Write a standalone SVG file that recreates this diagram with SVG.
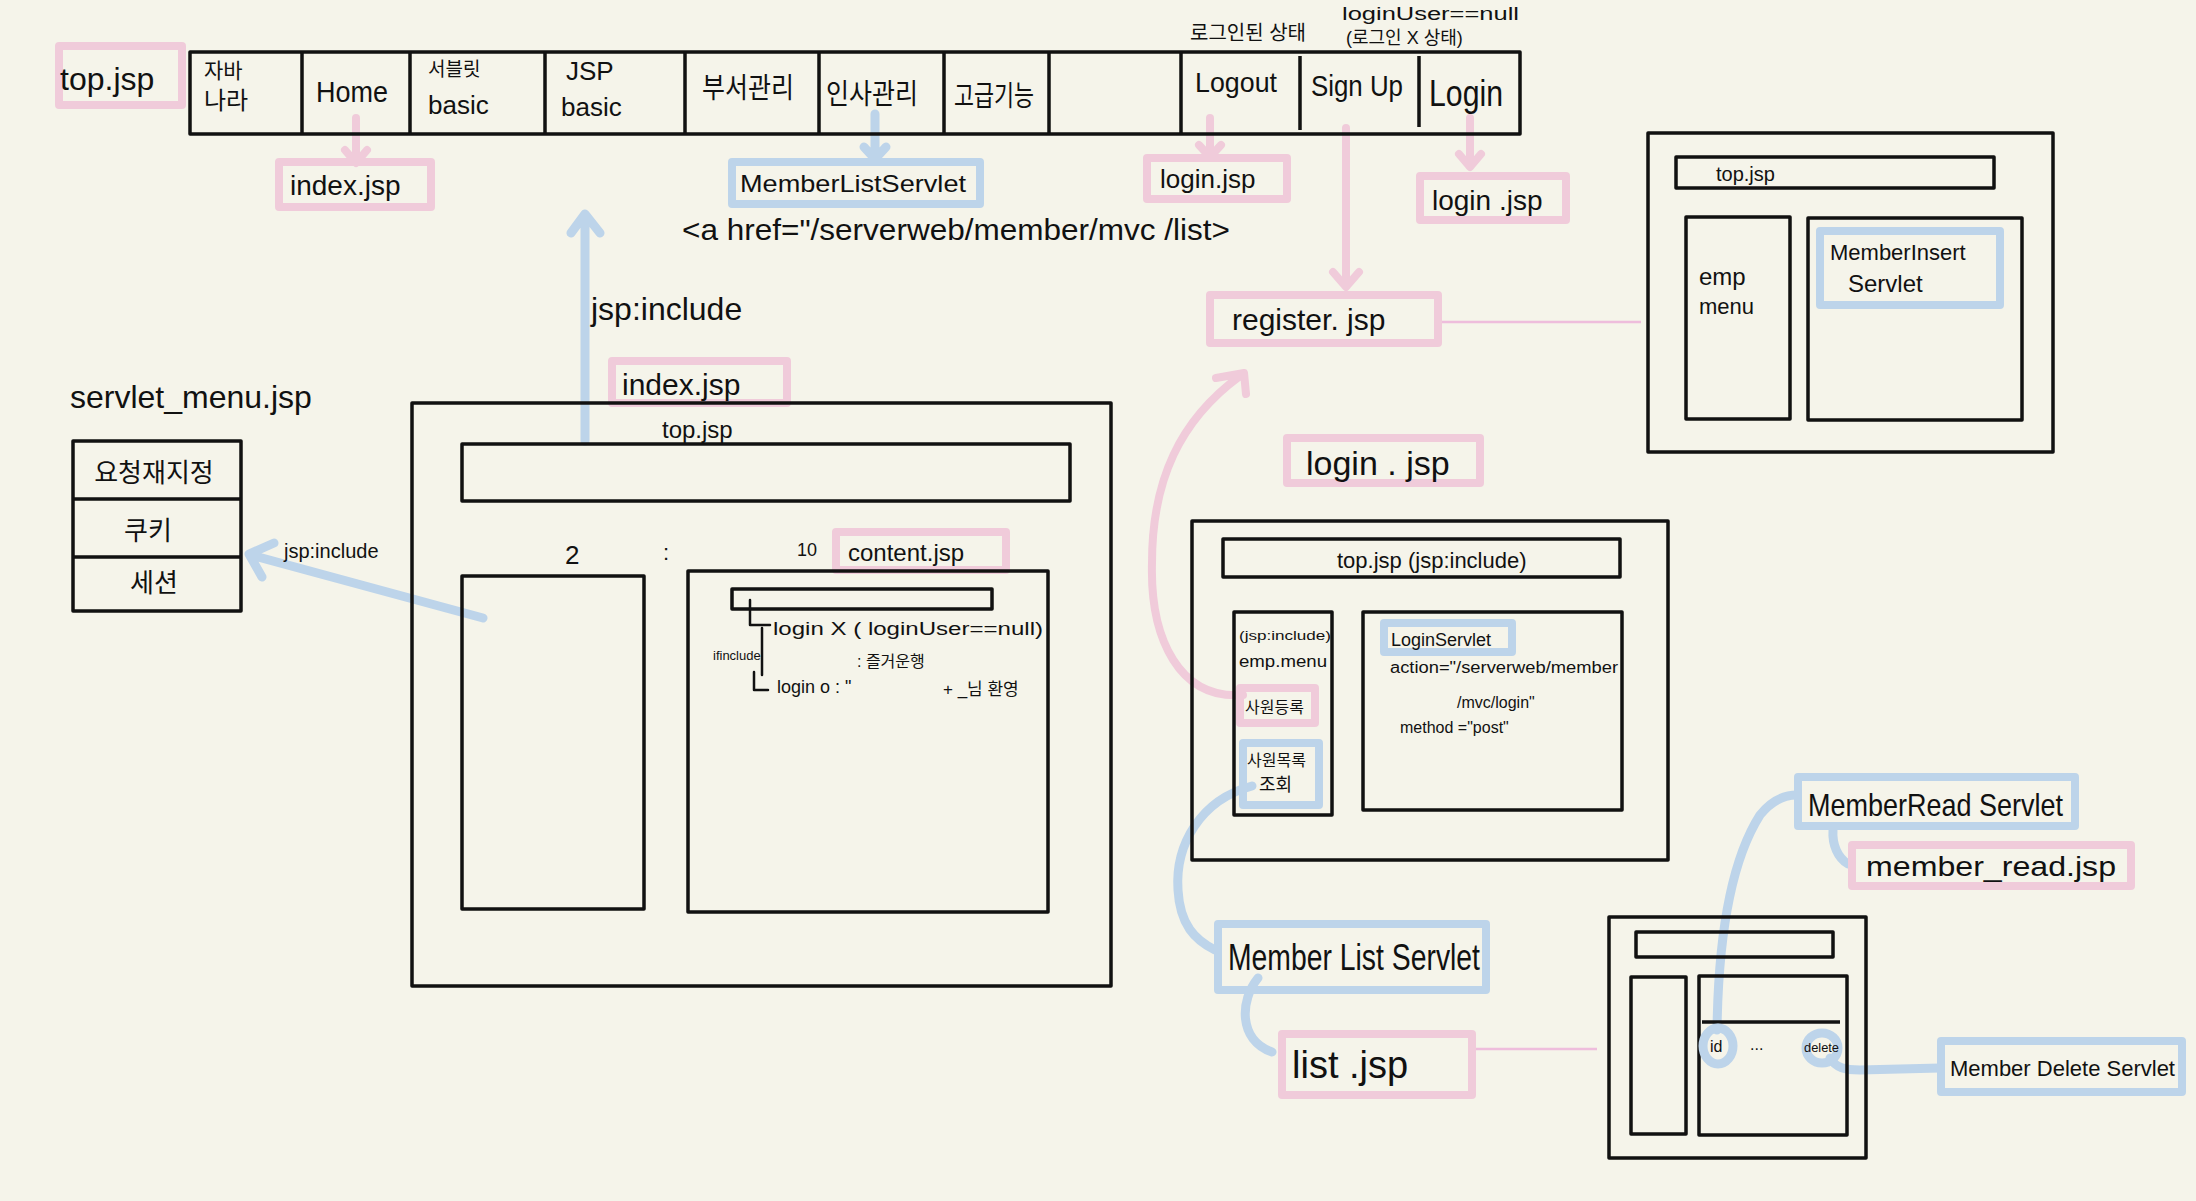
<svg xmlns="http://www.w3.org/2000/svg" width="2196" height="1201" viewBox="0 0 2196 1201">
<style>
text{font-family:"Liberation Sans","Noto Sans CJK KR",sans-serif;fill:#111;}
.k{fill:none;stroke:#111;stroke-width:3.5;stroke-linejoin:round}
.kt{fill:none;stroke:#111;stroke-width:2.5;stroke-linecap:round;stroke-linejoin:round}
.pk{fill:none;stroke:#f0cbda;stroke-width:8;stroke-linecap:round;stroke-linejoin:round}
.bl{fill:none;stroke:#bdd4ea;stroke-width:9;stroke-linecap:round;stroke-linejoin:round}
.pline{fill:none;stroke:#eebddc;stroke-width:2.5}
.pbox{fill:none;stroke:#f0cbda;stroke-width:8;stroke-linejoin:round}
.bbox{fill:none;stroke:#bdd4ea;stroke-width:8;stroke-linejoin:round}
</style>
<rect x="0" y="0" width="2196" height="1201" fill="#f5f4ea"/>

<g id="connectors">
  <path class="pk" d="M356,118 V162 M345,150 L356,163 L367,150"/>
  <path class="bl" d="M875,114 V158 M864,147 L875,159 L886,147"/>
  <path class="pk" d="M1210,118 V156 M1199,145 L1210,157 L1221,145"/>
  <path class="pk" d="M1470,118 V166 M1459,154 L1470,167 L1481,154"/>
  <path class="pk" d="M1346,128 V286 M1333,272 L1346,287 L1359,272"/>
  <path class="pline" d="M1442,322 H1641"/>
  <path class="bl" d="M585,441 V215 M571,233 L585,214 L600,233"/>
  <path class="bl" d="M483,618 L251,555 M274,543 L249,554 L262,577"/>
  <path class="pk" d="M1243,695 C1180,700 1150,640 1152,563 C1152,480 1180,420 1240,376 M1216,378 L1244,373 L1246,394"/>
  <path class="bl" d="M1252,786 C1200,800 1175,845 1178,890 C1180,925 1195,940 1215,950"/>
  <path class="bl" d="M1258,978 C1240,1000 1238,1040 1272,1052"/>
  <path class="pline" d="M1474,1049 H1597"/>
  <path class="bl" d="M1717,1030 C1718,960 1725,870 1760,815 C1772,800 1785,795 1797,795"/>
  <path class="bl" d="M1833,830 C1832,845 1838,858 1848,864"/>
  <path class="bl" d="M1830,1058 C1836,1068 1845,1070 1860,1070 L1940,1068"/>
</g>

<g id="top-jsp-label">
  <rect class="pbox" x="59" y="46" width="123" height="59"/>
  <text x="60" y="90" font-size="32">top.jsp</text>
</g>

<g id="navbar">
  <rect class="k" x="190" y="52" width="1330" height="82"/>
  <path class="k" d="M302,52 V134 M410,52 V134 M545,52 V134 M685,52 V134 M819,52 V134 M944,52 V134 M1049,52 V134 M1181,52 V134 M1300,56 V130 M1419,56 V127"/>
  <text x="204" y="78" font-size="21">자바</text>
  <text x="204" y="109" font-size="24">나라</text>
  <text x="316" y="102" font-size="30" textLength="72" lengthAdjust="spacingAndGlyphs">Home</text>
  <text x="428" y="76" font-size="19">서블릿</text>
  <text x="428" y="114" font-size="26">basic</text>
  <text x="566" y="80" font-size="26">JSP</text>
  <text x="561" y="116" font-size="26">basic</text>
  <text x="702" y="98" font-size="28" textLength="92" lengthAdjust="spacingAndGlyphs">부서관리</text>
  <text x="826" y="104" font-size="28" textLength="92" lengthAdjust="spacingAndGlyphs">인사관리</text>
  <text x="954" y="106" font-size="28" textLength="80" lengthAdjust="spacingAndGlyphs">고급기능</text>
  <text x="1195" y="92" font-size="28" textLength="82" lengthAdjust="spacingAndGlyphs">Logout</text>
  <text x="1311" y="96" font-size="30" textLength="92" lengthAdjust="spacingAndGlyphs">Sign Up</text>
  <text x="1429" y="106" font-size="36" textLength="74" lengthAdjust="spacingAndGlyphs">Login</text>
  <text x="1190" y="40" font-size="20">로그인된 상태</text>
  <text x="1342" y="20" font-size="18" textLength="177" lengthAdjust="spacingAndGlyphs">loginUser==null</text>
  <text x="1346" y="44" font-size="18">(로그인 X 상태)</text>
</g>

<g id="index-jsp-top">
  <rect class="pbox" x="279" y="162" width="152" height="45"/>
  <text x="290" y="195" font-size="28">index.jsp</text>
</g>

<g id="memberlist-servlet-top">
  <rect class="bbox" x="732" y="162" width="248" height="42"/>
  <text x="740" y="192" font-size="24" textLength="226" lengthAdjust="spacingAndGlyphs">MemberListServlet</text>
  <text x="682" y="240" font-size="30" textLength="548" lengthAdjust="spacingAndGlyphs">&lt;a href="/serverweb/member/mvc /list&gt;</text>
</g>

<g id="login-jsp-logout">
  <rect class="pbox" x="1147" y="158" width="140" height="41"/>
  <text x="1160" y="188" font-size="26">login.jsp</text>
</g>

<g id="login-jsp-login">
  <rect class="pbox" x="1420" y="176" width="146" height="44"/>
  <text x="1432" y="210" font-size="28">login .jsp</text>
</g>

<g id="register-jsp">
  <rect class="pbox" x="1210" y="295" width="228" height="48"/>
  <text x="1232" y="330" font-size="30">register. jsp</text>
</g>

<g id="register-page">
  <rect class="k" x="1648" y="133" width="405" height="319"/>
  <rect class="k" x="1676" y="157" width="318" height="31"/>
  <text x="1716" y="181" font-size="20">top.jsp</text>
  <rect class="k" x="1686" y="217" width="104" height="202"/>
  <text x="1699" y="285" font-size="24">emp</text>
  <text x="1699" y="314" font-size="22">menu</text>
  <rect class="k" x="1808" y="218" width="214" height="202"/>
  <rect class="bbox" x="1820" y="231" width="180" height="74"/>
  <text x="1830" y="260" font-size="22">MemberInsert</text>
  <text x="1848" y="292" font-size="24">Servlet</text>
</g>

<g id="jsp-include-label">
  <text x="591" y="320" font-size="32">jsp:include</text>
</g>

<g id="servlet-menu">
  <text x="70" y="408" font-size="32">servlet_menu.jsp</text>
  <rect class="k" x="73" y="441" width="168" height="170"/>
  <path class="k" d="M73,499 H241 M73,557 H241"/>
  <text x="154" y="482" font-size="26" text-anchor="middle">요청재지정</text>
  <text x="148" y="540" font-size="26" text-anchor="middle">쿠키</text>
  <text x="154" y="592" font-size="26" text-anchor="middle">세션</text>
  <text x="284" y="558" font-size="20">jsp:include</text>
</g>

<g id="index-page">
  <rect class="pbox" x="612" y="361" width="175" height="42"/>
  <text x="622" y="395" font-size="30">index.jsp</text>
  <rect class="k" x="412" y="403" width="699" height="583"/>
  <text x="662" y="438" font-size="24">top.jsp</text>
  <rect class="k" x="462" y="444" width="608" height="57"/>
  <text x="565" y="564" font-size="26">2</text>
  <text x="663" y="560" font-size="22">:</text>
  <text x="797" y="556" font-size="18">10</text>
  <rect class="k" x="462" y="576" width="182" height="333"/>
  <rect class="pbox" x="836" y="532" width="170" height="38"/>
  <text x="848" y="561" font-size="24">content.jsp</text>
  <rect class="k" x="688" y="571" width="360" height="341"/>
  <rect class="k" x="732" y="589" width="260" height="20"/>
  <path class="kt" d="M750,600 V625 H770 M762,628 V675 M754,672 V690 H768"/>
  <text x="773" y="635" font-size="18" textLength="270" lengthAdjust="spacingAndGlyphs">login  X ( loginUser==null)</text>
  <text x="713" y="660" font-size="13">ifinclude</text>
  <text x="857" y="667" font-size="16">: 즐거운행</text>
  <text x="777" y="693" font-size="18">login  o  :  "</text>
  <text x="943" y="695" font-size="17">+ _님 환영</text>
</g>

<g id="login-jsp-mid">
  <rect class="pbox" x="1287" y="438" width="193" height="45"/>
  <text x="1306" y="475" font-size="34">login . jsp</text>
</g>

<g id="login-page">
  <rect class="k" x="1192" y="521" width="476" height="339"/>
  <rect class="k" x="1223" y="539" width="397" height="38"/>
  <text x="1337" y="568" font-size="22">top.jsp (jsp:include)</text>
  <rect class="k" x="1234" y="612" width="98" height="203"/>
  <text x="1239" y="640" font-size="12" textLength="92" lengthAdjust="spacingAndGlyphs">(jsp:include)</text>
  <text x="1239" y="667" font-size="17" textLength="88" lengthAdjust="spacingAndGlyphs">emp.menu</text>
  <rect class="pbox" x="1240" y="688" width="75" height="35"/>
  <text x="1245" y="713" font-size="16">사원등록</text>
  <rect class="bbox" x="1243" y="743" width="76" height="62"/>
  <text x="1247" y="766" font-size="16">사원목록</text>
  <text x="1259" y="791" font-size="18">조회</text>
  <rect class="k" x="1363" y="612" width="259" height="198"/>
  <rect class="bbox" x="1384" y="623" width="128" height="29"/>
  <text x="1391" y="646" font-size="18">LoginServlet</text>
  <text x="1390" y="673" font-size="16" textLength="228" lengthAdjust="spacingAndGlyphs">action="/serverweb/member</text>
  <text x="1457" y="708" font-size="16">/mvc/login"</text>
  <text x="1400" y="733" font-size="16">method ="post"</text>
</g>

<g id="memberlist-servlet-bottom">
  <rect class="bbox" x="1218" y="924" width="268" height="66"/>
  <text x="1228" y="970" font-size="36" textLength="252" lengthAdjust="spacingAndGlyphs">Member List Servlet</text>
</g>

<g id="list-jsp">
  <rect class="pbox" x="1282" y="1034" width="190" height="61"/>
  <text x="1292" y="1078" font-size="38">list .jsp</text>
</g>

<g id="list-page">
  <rect class="k" x="1609" y="917" width="257" height="241"/>
  <rect class="k" x="1636" y="932" width="197" height="25"/>
  <rect class="k" x="1631" y="977" width="55" height="157"/>
  <rect class="k" x="1699" y="976" width="148" height="159"/>
  <path class="k" d="M1702,1022 H1840"/>
  <ellipse class="bl" cx="1718" cy="1046" rx="15" ry="18" stroke-width="7"/>
  <ellipse class="bl" cx="1822" cy="1048" rx="16" ry="15" stroke-width="7"/>
  <text x="1710" y="1052" font-size="16">id</text>
  <text x="1750" y="1050" font-size="16">...</text>
  <text x="1804" y="1052" font-size="13" textLength="35" lengthAdjust="spacingAndGlyphs">delete</text>
</g>

<g id="memberread-servlet">
  <rect class="bbox" x="1798" y="777" width="277" height="49"/>
  <text x="1808" y="816" font-size="32" textLength="255" lengthAdjust="spacingAndGlyphs">MemberRead Servlet</text>
</g>

<g id="member-read-jsp">
  <rect class="pbox" x="1852" y="845" width="279" height="41"/>
  <text x="1866" y="876" font-size="28" textLength="250" lengthAdjust="spacingAndGlyphs">member_read.jsp</text>
</g>

<g id="memberdelete-servlet">
  <rect class="bbox" x="1941" y="1041" width="241" height="51"/>
  <text x="1950" y="1076" font-size="22">Member Delete Servlet</text>
</g>
</svg>
